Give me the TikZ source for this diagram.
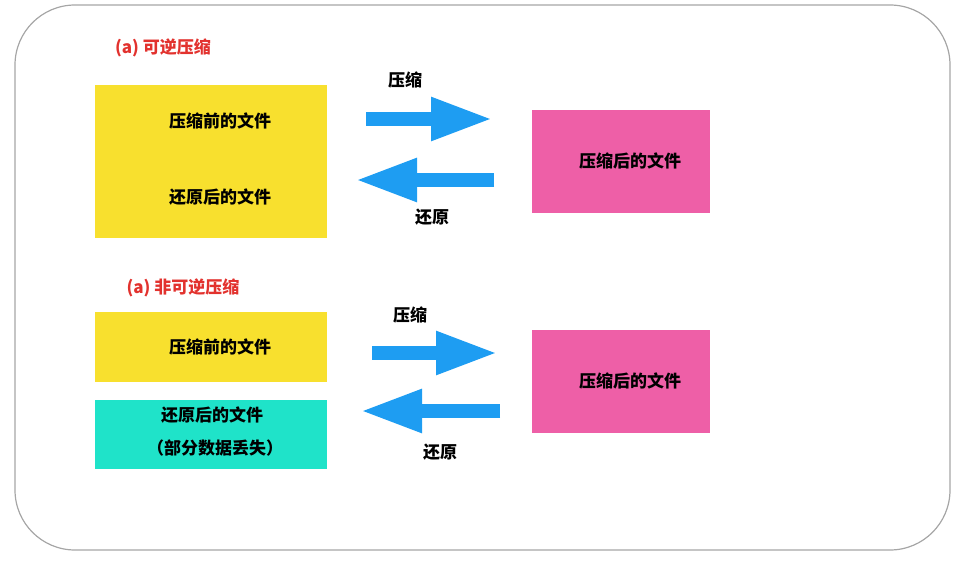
\documentclass[tikz,border=0pt]{standalone}
\usepackage{fontspec}
\newfontfamily\cjk{Noto Sans CJK SC}
\usetikzlibrary{arrows.meta}
\definecolor{yel}{HTML}{F8E02E}
\definecolor{pnk}{HTML}{EE5FA7}
\definecolor{cyn}{HTML}{1FE3C9}
\definecolor{blu}{HTML}{1E9DF2}
\definecolor{red1}{HTML}{E2322E}
\begin{document}
\begin{tikzpicture}[x=1pt,y=-1pt,
  txt/.style={font=\cjk\fontsize{17}{20}\selectfont\bfseries, text=black},
  ttl/.style={font=\cjk\fontsize{17}{20}\selectfont\bfseries, text=red1},
  box/.style={anchor=north west, inner sep=0pt, draw=none},
  bigarrow/.style={draw=blu, line width=14pt, -{Triangle[length=62pt,width=40pt]}}]
\useasboundingbox (0,0) rectangle (962,562);
\draw[gray!70, line width=1.2pt, rounded corners=60pt] (15,5) rectangle (950,550);
% top section
\node[ttl] (t1) at (163,48) {(a) 可逆压缩};
\fill[yel] (95,85) rectangle (327,238);
\node[txt] (a1) at (220,121) {压缩前的文件};
\node[txt] (a2) at (220,197) {还原后的文件};
\fill[pnk] (532,110) rectangle (710,213);
\node[txt] (p1) at (630,161) {压缩后的文件};
\coordinate (r1s) at (366,119); \coordinate (r1e) at (493,119);
\draw[bigarrow] (r1s) -- (r1e);
\node[txt] (l1) at (405,80) {压缩};
\coordinate (b1s) at (494,180); \coordinate (b1e) at (355,180);
\draw[bigarrow] (b1s) -- (b1e);
\node[txt] (l2) at (432,217) {还原};
% bottom section
\node[ttl] (t2) at (183,288) {(a) 非可逆压缩};
\fill[yel] (95,312) rectangle (327,382);
\node[txt] (a3) at (220,347) {压缩前的文件};
\fill[cyn] (95,400) rectangle (327,469);
\node[txt] (a4) at (212,415) {还原后的文件};
\node[txt] (a5) at (215,448) {（部分数据丢失）};
\fill[pnk] (532,330) rectangle (710,433);
\node[txt] (p2) at (630,381) {压缩后的文件};
\coordinate (r2s) at (372,353); \coordinate (r2e) at (498,353);
\draw[bigarrow] (r2s) -- (r2e);
\node[txt] (l3) at (410,315) {压缩};
\coordinate (b2s) at (500,411); \coordinate (b2e) at (360,411);
\draw[bigarrow] (b2s) -- (b2e);
\node[txt] (l4) at (440,452) {还原};
\end{tikzpicture}
\end{document}
